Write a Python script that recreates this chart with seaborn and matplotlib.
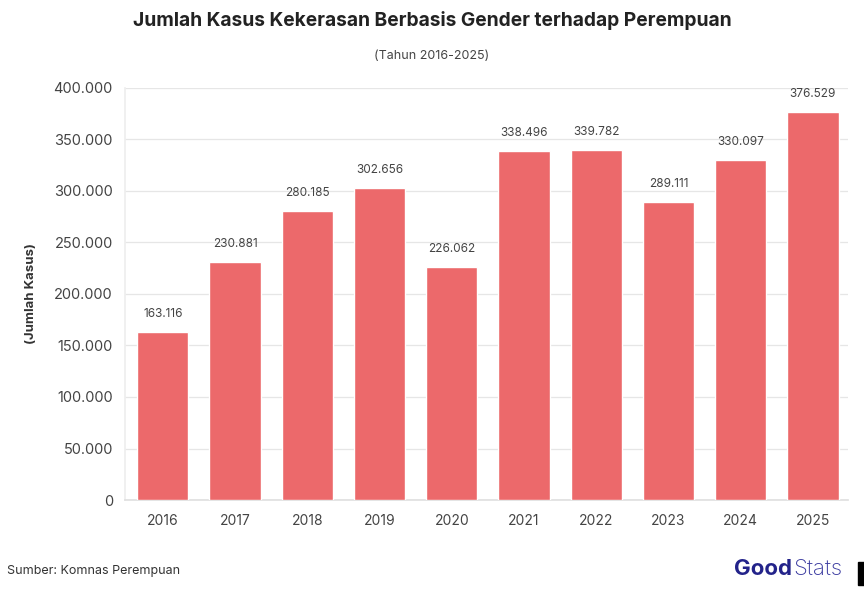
import matplotlib
matplotlib.use("Agg")
import matplotlib.pyplot as plt
import seaborn as sns
import pandas as pd
from matplotlib.patches import Rectangle

# data
tahun = ["2016", "2017", "2018", "2019", "2020", "2021", "2022", "2023", "2024", "2025"]
kasus = [163116, 230881, 280185, 302656, 226062, 338496, 339782, 289111, 330097, 376529]
yticks = [0, 50000, 100000, 150000, 200000, 250000, 300000, 350000, 400000]

df = pd.DataFrame({"tahun": tahun, "kasus": kasus})

sns.set_theme(style="white")
plt.rcParams['font.family'] = ['Inter', 'DejaVu Sans']


def fmt(v):
    return f"{v:,}".replace(",", ".")


fig = plt.figure(figsize=(8.64, 5.9), dpi=100)
ax = fig.add_axes([0.145, 0.1525, 0.836, 0.6985])

sns.barplot(data=df, x="tahun", y="kasus", color="#EC696B", saturation=1,
            width=0.71, ax=ax, zorder=3)

ax.set_ylim(0, 400000)
ax.set_xlim(-0.52, 9.48)
ax.set_yticks(yticks)
ax.set_yticklabels([fmt(v) for v in yticks], fontsize=10.5, color="#444444")
ax.tick_params(axis="x", labelsize=10, labelcolor="#444444", length=0, pad=10)
ax.tick_params(axis="y", length=0, pad=9)
ax.yaxis.grid(True, color="#e6e6e6", linewidth=0.9, zorder=0)
for s in ["top", "right"]:
    ax.spines[s].set_visible(False)
ax.spines["left"].set_color("#eeeeee")
ax.spines["bottom"].set_color("#e0e0e0")
ax.set_xlabel("")
ax.set_ylabel("(Jumlah Kasus)", fontsize=9.5, fontweight="bold", color="#333333", labelpad=12)

# label nilai
for i, v in enumerate(kasus):
    ax.text(i, v + 12000, fmt(v), ha="center", va="bottom", fontsize=8.5, color="#444444")

fig.text(0.5, 0.965, "Jumlah Kasus Kekerasan Berbasis Gender terhadap Perempuan",
         ha="center", va="center", fontsize=13.8, fontweight="bold", color="#222222")
fig.text(0.5, 0.905, "(Tahun 2016-2025)", ha="center", va="center", fontsize=9, color="#444444")
fig.text(0.008, 0.033, "Sumber: Komnas Perempuan", ha="left", va="center", fontsize=9, color="#333333")

# logo teks
fig.text(0.850, 0.036, "Good", ha="left", va="center", fontsize=16, fontweight="bold", color="#23238a")
fig.text(0.918, 0.036, "Stats", ha="left", va="center", fontsize=16, fontweight="light", color="#3a3aa0")
fig.patches.append(Rectangle((0.993, 0.008), 0.007, 0.04, transform=fig.transFigure,
                             color="black", figure=fig))

fig.savefig("out.png", dpi=100)
plt.close(fig)
